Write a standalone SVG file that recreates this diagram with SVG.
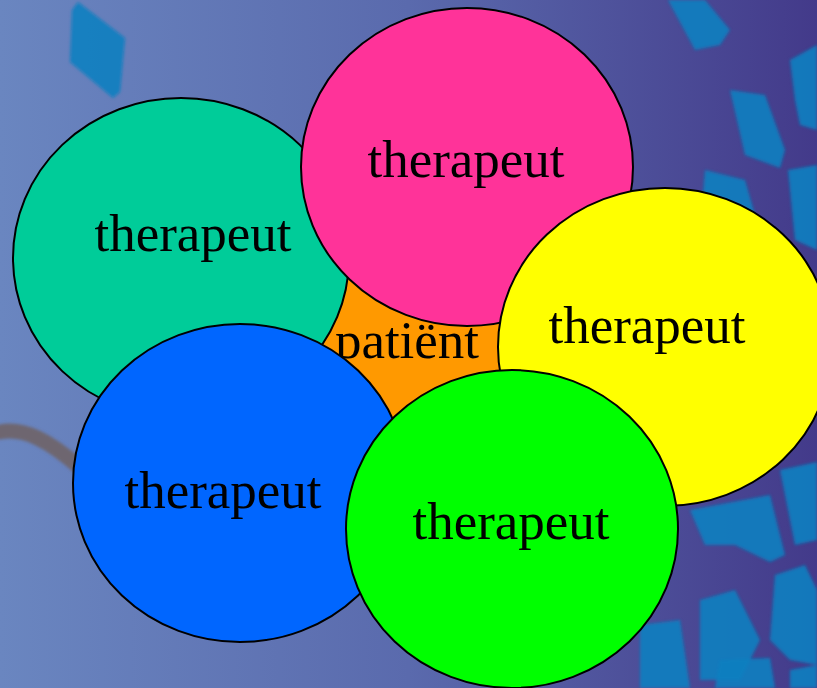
<svg xmlns="http://www.w3.org/2000/svg" width="817" height="688" viewBox="0 0 817 688">
<defs>
<linearGradient id="bg" x1="0" y1="0" x2="1" y2="0">
<stop offset="0" stop-color="#6a86c0"/>
<stop offset="0.5" stop-color="#5a6aad"/>
<stop offset="1" stop-color="#433a8a"/>
</linearGradient>
<filter id="blur" x="-20%" y="-20%" width="140%" height="140%"><feGaussianBlur stdDeviation="1.5"/></filter>
</defs>
<style>
.c{stroke:#000;stroke-width:2}
.t{font-family:"Liberation Serif","Times New Roman",serif;font-size:53px;fill:#000;text-anchor:middle}
.d{fill:#0a80c0;opacity:0.9}
</style>
<rect width="817" height="688" fill="url(#bg)"/>
<g id="decor" filter="url(#blur)">
<path class="d" d="M78 2 L125 38 L120 92 L113 98 L70 62 L72 10 Z"/>
<path class="d" d="M668 0 L705 0 L730 30 L720 45 L695 50 Z"/>
<path class="d" d="M730 90 L765 95 L785 150 L780 168 L745 155 Z"/>
<path class="d" d="M790 60 L817 45 L817 130 L800 125 L795 100 Z"/>
<path class="d" d="M705 170 L745 180 L755 215 L740 240 L700 230 Z"/>
<path class="d" d="M788 170 L817 165 L817 250 L795 240 Z"/>
<path class="d" d="M690 510 L770 495 L785 555 L770 562 L735 545 L705 545 Z"/>
<path class="d" d="M775 575 L805 565 L817 590 L817 665 L790 660 L770 640 Z"/>
<path class="d" d="M700 600 L735 590 L760 640 L740 680 L700 680 Z"/>
<path class="d" d="M640 625 L680 620 L690 688 L640 688 Z"/>
<path class="d" d="M720 660 L770 658 L775 688 L715 688 Z"/>
<path class="d" d="M780 470 L817 462 L817 540 L795 545 Z"/>
<path class="d" d="M790 670 L817 665 L817 688 L790 688 Z"/>
<path d="M0 432 C25 427 50 442 78 466" stroke="#6e6670" stroke-width="15" fill="none" stroke-linecap="round"/>
</g>
<g id="patient">
<ellipse class="c" cx="410" cy="345" rx="105" ry="105" fill="#ff9900"/>
<text class="t" x="407" y="358">patiënt</text>
</g>
<g id="therapeut-teal">
<ellipse class="c" cx="181" cy="258" rx="168" ry="160" fill="#00cc99"/>
<text class="t" x="193" y="251">therapeut</text>
</g>
<g id="therapeut-pink">
<ellipse class="c" cx="467" cy="167" rx="166" ry="159" fill="#ff3399"/>
<text class="t" x="466" y="177">therapeut</text>
</g>
<g id="therapeut-yellow">
<ellipse class="c" cx="665" cy="347" rx="167" ry="159" fill="#ffff00"/>
<text class="t" x="647" y="343">therapeut</text>
</g>
<g id="therapeut-blue">
<ellipse class="c" cx="240" cy="483" rx="167" ry="159" fill="#0066ff"/>
<text class="t" x="223" y="508">therapeut</text>
</g>
<g id="therapeut-green">
<ellipse class="c" cx="512" cy="529" rx="166" ry="159" fill="#00ff00"/>
<text class="t" x="511" y="539">therapeut</text>
</g>
<g id="connectors"/>
</svg>
